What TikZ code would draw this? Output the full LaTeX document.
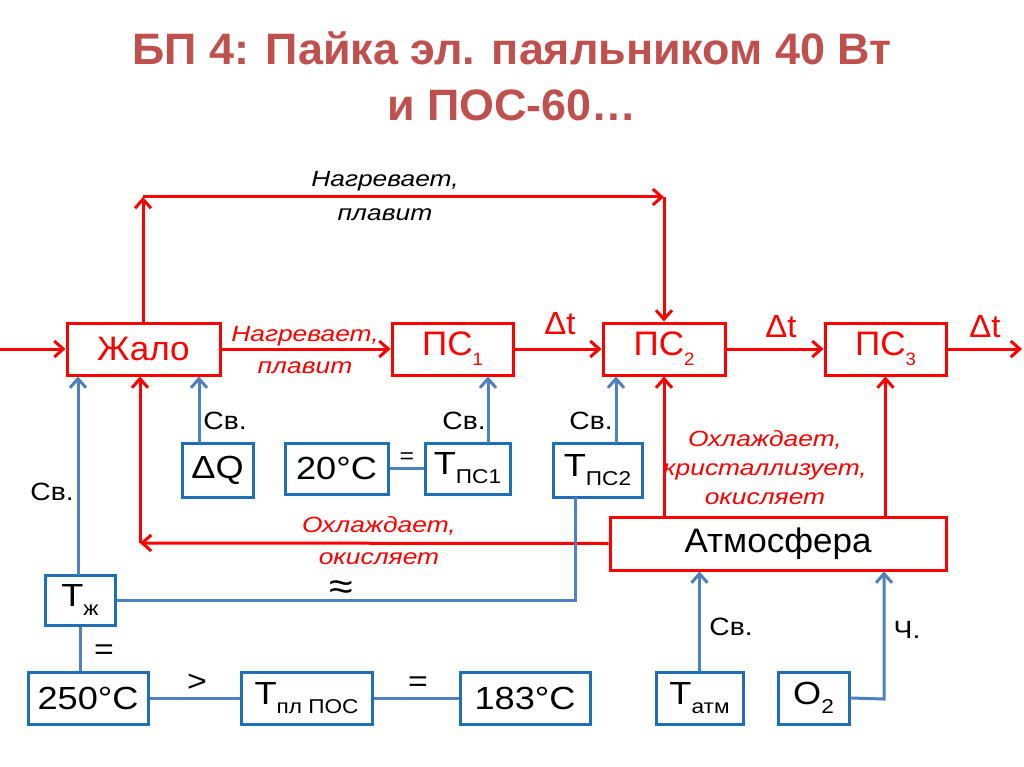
\documentclass[tikz,border=0pt]{standalone}
\usepackage{fontspec}
\setmainfont[FakeStretch=1.13]{Liberation Sans}
\newfontfamily\ttlfont[FakeStretch=1.02]{Liberation Sans}
\newfontfamily\boxfont[FakeStretch=1.03]{Liberation Sans}
\newfontfamily\labfont[FakeStretch=1.2]{Liberation Sans}
\usetikzlibrary{arrows.meta,calc}
\definecolor{rd}{HTML}{FF0000}
\definecolor{bbord}{HTML}{1F6EB6}
\definecolor{bln}{HTML}{4F81BD}
\definecolor{ttl}{HTML}{C0504D}
\newcommand{\fsz}[2]{\fontsize{#1pt}{#2pt}\selectfont}
\newcommand{\lsub}[1]{\raisebox{-0.28em}{\fontsize{20pt}{20pt}\selectfont #1}}
\newcommand{\rsub}[1]{\raisebox{-0.3em}{\fontsize{18pt}{18pt}\selectfont #1}}
\tikzset{
  rbox/.style={draw=rd, line width=3pt, text=rd, inner sep=0pt, font=\boxfont\fsz{34}{36}},
  rboxk/.style={draw=rd, line width=3pt, text=black, inner sep=0pt, font=\boxfont\fsz{34}{36}},
  bbox/.style={draw=bbord, line width=3pt, text=black, inner sep=0pt, font=\fsz{32}{36}},
  rarr/.style={draw=rd, line width=3pt, -{Straight Barb[length=9pt,width=16pt,line width=3pt]}},
  barr/.style={draw=bln, line width=3pt, -{Straight Barb[length=9pt,width=16pt,line width=3pt]}},
  bline/.style={draw=bln, line width=3pt},
  rlab/.style={text=rd, font=\labfont\fsz{22}{32}\itshape, align=center},
  klab/.style={text=black, font=\labfont\fsz{22}{34}\itshape, align=center},
  sv/.style={text=black, font=\fsz{25}{28}},
  sym/.style={text=black, font=\fsz{30}{30}},
  dt/.style={text=rd, font=\boxfont\fsz{32}{32}},
}
\begin{document}
\begin{tikzpicture}[x=1pt,y=-1pt]
\useasboundingbox (0,0) rectangle (1024,767);
\fill[white] (0,0) rectangle (1024,767);
% title
\node[text=ttl, font=\ttlfont\fsz{44}{48}\bfseries, anchor=base] (title1) at (512,65) {БП 4: Пайка эл. паяльником 40 Вт};
\node[text=ttl, font=\ttlfont\fsz{44}{48}\bfseries, anchor=base] (title2) at (512,121) {и ПОС-60…};
% red boxes
\node[rbox, minimum width=153pt, minimum height=52pt] (zhalo) at (143.5,349) {Жало};
\node[rbox, minimum width=121pt, minimum height=52pt] (ps1) at (452.5,349) {ПС\rsub{1}};
\node[rbox, minimum width=122pt, minimum height=52pt] (ps2) at (664,349) {ПС\rsub{2}};
\node[rbox, minimum width=121pt, minimum height=52pt] (ps3) at (885.5,349) {ПС\rsub{3}};
\node[rboxk, minimum width=336pt, minimum height=53pt] (atm) at (778,543.5) {Атмосфера};
% blue boxes
\node[bbox, minimum width=71pt, minimum height=54pt] (dq) at (217.5,470) {ΔQ};
\node[bbox, minimum width=103pt, minimum height=51pt] (t20) at (336.5,468.5) {20°C};
\node[bbox, minimum width=85pt, minimum height=51pt] (tps1) at (467.5,468.5) {Т\lsub{ПС1}};
\node[bbox, minimum width=89pt, minimum height=54pt] (tps2) at (597.5,470) {Т\lsub{ПС2}};
\node[bbox, minimum width=70pt, minimum height=50pt] (tzh) at (80,600) {Т\lsub{ж}};
\node[bbox, minimum width=120pt, minimum height=52pt] (t250) at (88,698) {250°C};
\node[bbox, minimum width=131pt, minimum height=52pt] (tpl) at (306.5,698) {Т\lsub{пл ПОС}};
\node[bbox, minimum width=130pt, minimum height=52pt] (t183) at (525,698) {183°C};
\node[bbox, minimum width=87pt, minimum height=52pt] (tatm) at (699.5,698) {Т\lsub{атм}};
\node[bbox, minimum width=71pt, minimum height=52pt] (o2) at (813.5,698) {O\lsub{2}};
% coordinates
\coordinate (in) at (0,349);
\coordinate (out) at (1022,349);
\coordinate (c1) at (143,197);
\coordinate (c2) at (664,197);
\coordinate (c3) at (140,543);
\coordinate (dqtop) at (199,443);
\coordinate (tps1top) at (488,443);
\coordinate (tps2top) at (616,443);
\coordinate (tps2bot) at (575,497);
\coordinate (tzhtop) at (78,575);
\coordinate (o2turn) at (884,699);
% red connectors
\draw[rarr] (in) -- (zhalo.west);
\draw[rarr] (zhalo.east) -- (ps1.west);
\draw[rarr] (ps1.east) -- (ps2.west);
\draw[rarr] (ps2.east) -- (ps3.west);
\draw[rarr] (ps3.east) -- (out);
\draw[rarr] (c1 |- zhalo.north) -- (c1);
\draw[rarr] (c1) -- (c2);
\draw[rarr] (c2) -- (ps2.north);
\draw[rarr] (atm.west) -- (c3);
\draw[rarr] (c3) -- (c3 |- zhalo.south);
\draw[rarr] (ps2.south |- atm.north) -- (ps2.south);
\draw[rarr] (ps3.south |- atm.north) -- (ps3.south);
% blue connectors
\draw[barr] (dqtop) -- (dqtop |- zhalo.south);
\draw[barr] (tps1top) -- (tps1top |- ps1.south);
\draw[barr] (tps2top) -- (tps2top |- ps2.south);
\draw[barr] (tzhtop) -- (tzhtop |- zhalo.south);
\draw[bline] (tps2bot) |- (tzh.east);
\draw[bline] (tzh.south) -- (tzh.south |- t250.north);
\draw[bline] (t20.east) -- (tps1.west);
\draw[bline] (t250.east) -- (tpl.west);
\draw[bline] (tpl.east) -- (t183.west);
\draw[barr] (tatm.north) -- (tatm.north |- atm.south);
\draw[barr] (o2.east) -- (o2turn) -- (o2turn |- atm.south);
% labels
\node[klab] (l1) at (385,196) {Нагревает,\\плавит};
\node[rlab] (l2) at (305,350) {Нагревает,\\плавит};
\node[rlab] (l3) at (379,541) {Охлаждает,\\окисляет};
\node[rlab, font=\labfont\fsz{22}{29}\itshape] (l4) at (765,468) {Охлаждает,\\кристаллизует,\\окисляет};
\node[dt] (dt1) at (560,324) {Δt};
\node[dt] (dt2) at (781,327) {Δt};
\node[dt] (dt3) at (985,327) {Δt};
\node[sv] (sv1) at (225,421) {Св.};
\node[sv] (sv2) at (464,421) {Св.};
\node[sv] (sv3) at (591,421) {Св.};
\node[sv] (sv4) at (52,492) {Св.};
\node[sv] (sv5) at (731,627) {Св.};
\node[sv] (sv6) at (907,630) {Ч.};
\node[sym, font=\fsz{22}{22}] (eq1) at (407,458) {=};
\node[sym] (eq2) at (104,652) {=};
\node[sym] (gt) at (197,683) {>};
\node[sym] (eq3) at (418,684) {=};
\node[sym, font=\fsz{38}{38}] (apx) at (341,590) {≈};
\end{tikzpicture}
\end{document}
